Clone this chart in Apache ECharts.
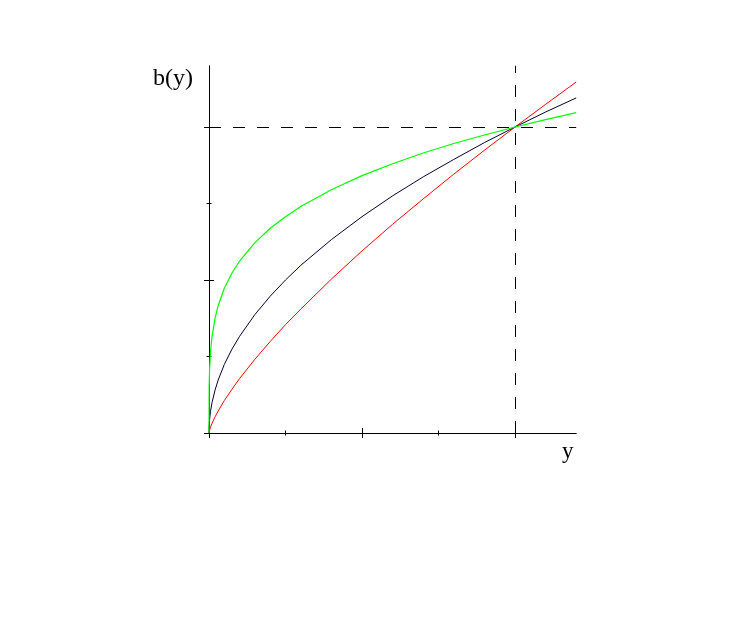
<!DOCTYPE html>
<html>
<head>
<meta charset="utf-8">
<script src="https://cdn.jsdelivr.net/npm/echarts@6/dist/echarts.min.js"></script>
<style>
html,body{margin:0;padding:0;background:#fff;}
#c{width:746px;height:636px;}
</style>
</head>
<body>
<div id="c"></div>
<script>
// sample positions along the horizontal axis (y)
var xs = [0, 0.0005, 0.002, 0.005, 0.01, 0.02, 0.03, 0.05, 0.075, 0.1, 0.15, 0.2, 0.25, 0.3, 0.4, 0.5, 0.6, 0.7, 0.8, 0.9, 1.0, 1.1, 1.2];
// b(y) values
var redVals   = [0, 0.0034, 0.0095, 0.019, 0.032, 0.053, 0.072, 0.106, 0.143, 0.178, 0.241, 0.299, 0.354, 0.405, 0.503, 0.595, 0.682, 0.765, 0.846, 0.924, 1, 1.074, 1.147];
var blackVals = [0, 0.022, 0.045, 0.071, 0.1, 0.141, 0.173, 0.224, 0.274, 0.316, 0.387, 0.447, 0.5, 0.548, 0.632, 0.707, 0.775, 0.837, 0.894, 0.949, 1, 1.049, 1.095];
var greenVals = [0, 0.15, 0.211, 0.266, 0.316, 0.376, 0.416, 0.473, 0.523, 0.562, 0.622, 0.669, 0.707, 0.740, 0.795, 0.841, 0.880, 0.915, 0.946, 0.974, 1, 1.024, 1.047];
var majorTicks = [0, 0.5, 1];
var minorTicks = [0.25, 0.75];
var refX = 1;
var refY = 1;
var xName = 'y';
var yName = 'b(y)';

function pairs(vals){ return xs.map(function(x,i){ return [x, vals[i]]; }); }

function mkAxis(kind, main, ticks, len, inside){
  return {
    type: 'value', min: 0, max: 1.2, gridIndex: 0,
    position: kind === 'x' ? 'bottom' : 'left',
    axisLine: { show: main, onZero: false, lineStyle: { color: '#000', width: 1 } },
    axisTick: { show: true, customValues: ticks, length: len, inside: inside, lineStyle: { color: '#000', width: 1 } },
    axisLabel: { show: false },
    splitLine: { show: false }
  };
}

var chart = echarts.init(document.getElementById('c'), null, { renderer: 'canvas' });
chart.setOption({
  animation: false,
  backgroundColor: '#fff',
  grid: { left: 209, top: 65.8, width: 367.2, height: 367.2, containLabel: false },
  xAxis: [
    mkAxis('x', true, majorTicks, 5, false),
    mkAxis('x', false, majorTicks, 5, true),
    mkAxis('x', false, minorTicks, 2.5, false),
    mkAxis('x', false, minorTicks, 2.5, true)
  ],
  yAxis: [
    mkAxis('y', true, majorTicks, 5, false),
    mkAxis('y', false, majorTicks, 5, true),
    mkAxis('y', false, minorTicks, 2.5, false),
    mkAxis('y', false, minorTicks, 2.5, true)
  ],
  graphic: [
    { type: 'text', left: 153, top: 67, style: { text: yName, font: '24px "Liberation Serif", "Times New Roman", serif', fill: '#000' } },
    { type: 'text', left: 562, top: 440, style: { text: xName, font: '23px "Liberation Serif", "Times New Roman", serif', fill: '#000' } }
  ],
  series: [
    {
      type: 'line', data: pairs(redVals), showSymbol: false, symbol: 'none',
      lineStyle: { color: '#ff0000', width: 1 }, z: 3,
      markLine: {
        silent: true, symbol: 'none', label: { show: false },
        lineStyle: { color: '#000', width: 1, type: [12, 12] },
        data: [{ xAxis: refX }, { yAxis: refY }]
      }
    },
    { type: 'line', data: pairs(blackVals), showSymbol: false, symbol: 'none', lineStyle: { color: '#000033', width: 1 }, z: 4 },
    { type: 'line', data: pairs(greenVals), showSymbol: false, symbol: 'none', lineStyle: { color: '#00ff00', width: 1.2 }, z: 5 }
  ]
});
</script>
</body>
</html>
